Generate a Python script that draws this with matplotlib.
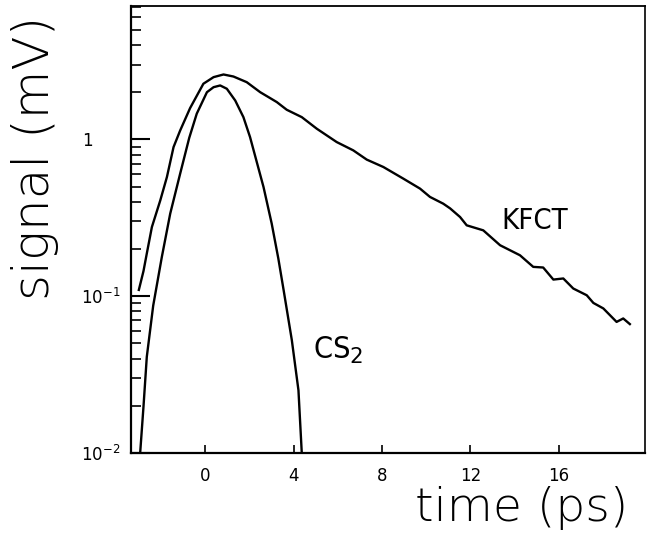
import matplotlib
matplotlib.use("Agg")
import matplotlib.pyplot as plt
import matplotlib.ticker as mticker
import numpy as np

plt.rcParams['font.family'] = ['DejaVu Sans']
plt.rcParams['mathtext.fontset'] = 'dejavusans'

# --- DATA (y as log10 of signal in mV) ---
kfct_t = [-3.00, -2.79, -2.64, -2.41, -2.03, -1.73, -1.43, -1.13, -0.68, -0.08, 0.38,
          0.83, 1.28, 1.88, 2.49, 2.86, 3.24, 3.69, 4.37, 5.05, 5.95, 6.70, 7.31,
          8.06, 8.96, 9.72, 10.17, 10.77, 11.08, 11.53, 11.83, 12.58, 13.34, 14.24,
          14.84, 15.29, 15.75, 16.20, 16.65, 17.26, 17.56, 18.01, 18.61, 18.91, 19.21]
kfct_log = [-0.96, -0.84, -0.728, -0.559, -0.389, -0.24, -0.049, 0.057, 0.20, 0.355, 0.397,
            0.414, 0.401, 0.365, 0.301, 0.27, 0.238, 0.189, 0.142, 0.068, -0.017, -0.07, -0.129,
            -0.176, -0.25, -0.314, -0.367, -0.41, -0.44, -0.495, -0.548, -0.58, -0.675, -0.739,
            -0.813, -0.817, -0.894, -0.887, -0.951, -0.994, -1.043, -1.078, -1.164, -1.142, -1.178]

cs2_t = [-2.94, -2.79, -2.64, -2.35, -1.96, -1.58, -1.13, -0.72, -0.38, 0.08, 0.38,
         0.68, 0.98, 1.36, 1.73, 2.03, 2.64, 3.01, 3.31, 3.55, 3.92, 4.22, 4.37]
cs2_log = [-2.0, -1.705, -1.387, -1.06, -0.75, -0.473, -0.218, 0.01, 0.164, 0.301, 0.333,
           0.344, 0.323, 0.248, 0.142, 0.015, -0.304, -0.537, -0.76, -0.962, -1.28, -1.6, -2.0]

kfct = 10 ** np.array(kfct_log)
cs2 = 10 ** np.array(cs2_log)

# --- PLOT ---
fig = plt.figure(figsize=(6.49, 5.38), dpi=100)
ax = fig.add_axes([0.202, 0.158, 0.792, 0.831])

ax.plot(kfct_t, kfct, color='black', lw=1.7, solid_joinstyle='round')
ax.plot(cs2_t, cs2, color='black', lw=1.7, solid_joinstyle='round')

ax.set_yscale('log')
ax.set_xlim(-3.35, 19.9)
ax.set_ylim(0.01, 7.1)

ax.set_xticks([0, 4, 8, 12, 16])
ax.xaxis.set_minor_locator(mticker.NullLocator())
ax.set_yticks([0.01, 0.1, 1])
ax.set_yticklabels([r'$10^{-2}$', r'$10^{-1}$', '1     '])
ax.yaxis.set_minor_locator(mticker.LogLocator(base=10, subs=np.arange(2, 10)))
ax.yaxis.set_minor_formatter(mticker.NullFormatter())

ax.tick_params(axis='x', which='major', direction='in', length=6, width=1.2,
               labelsize=12, pad=10)
ax.tick_params(axis='y', which='major', direction='in', length=14, width=1.5,
               labelsize=12, pad=8)
ax.tick_params(axis='y', which='minor', direction='in', length=7, width=1.2)
for s in ax.spines.values():
    s.set_linewidth(1.6)
ax.spines['right'].set_linewidth(1.2)
ax.spines['top'].set_linewidth(1.3)

ax.text(14.9, 0.30, 'KFCT', fontsize=21, ha='center', va='center',
        fontstretch='condensed')
ax.text(4.9, 0.04, r'CS$_2$', fontsize=22, ha='left', va='baseline',
        fontstretch='condensed')

fig.text(0.054, 0.707, 'signal (mV)', rotation=90, fontsize=36,
         ha='center', va='center', color='black', fontweight='light')
fig.text(0.803, 0.056, 'time (ps)', fontsize=34, ha='center', va='center',
         color='black', fontweight='light')

fig.savefig('out.png', dpi=100)
